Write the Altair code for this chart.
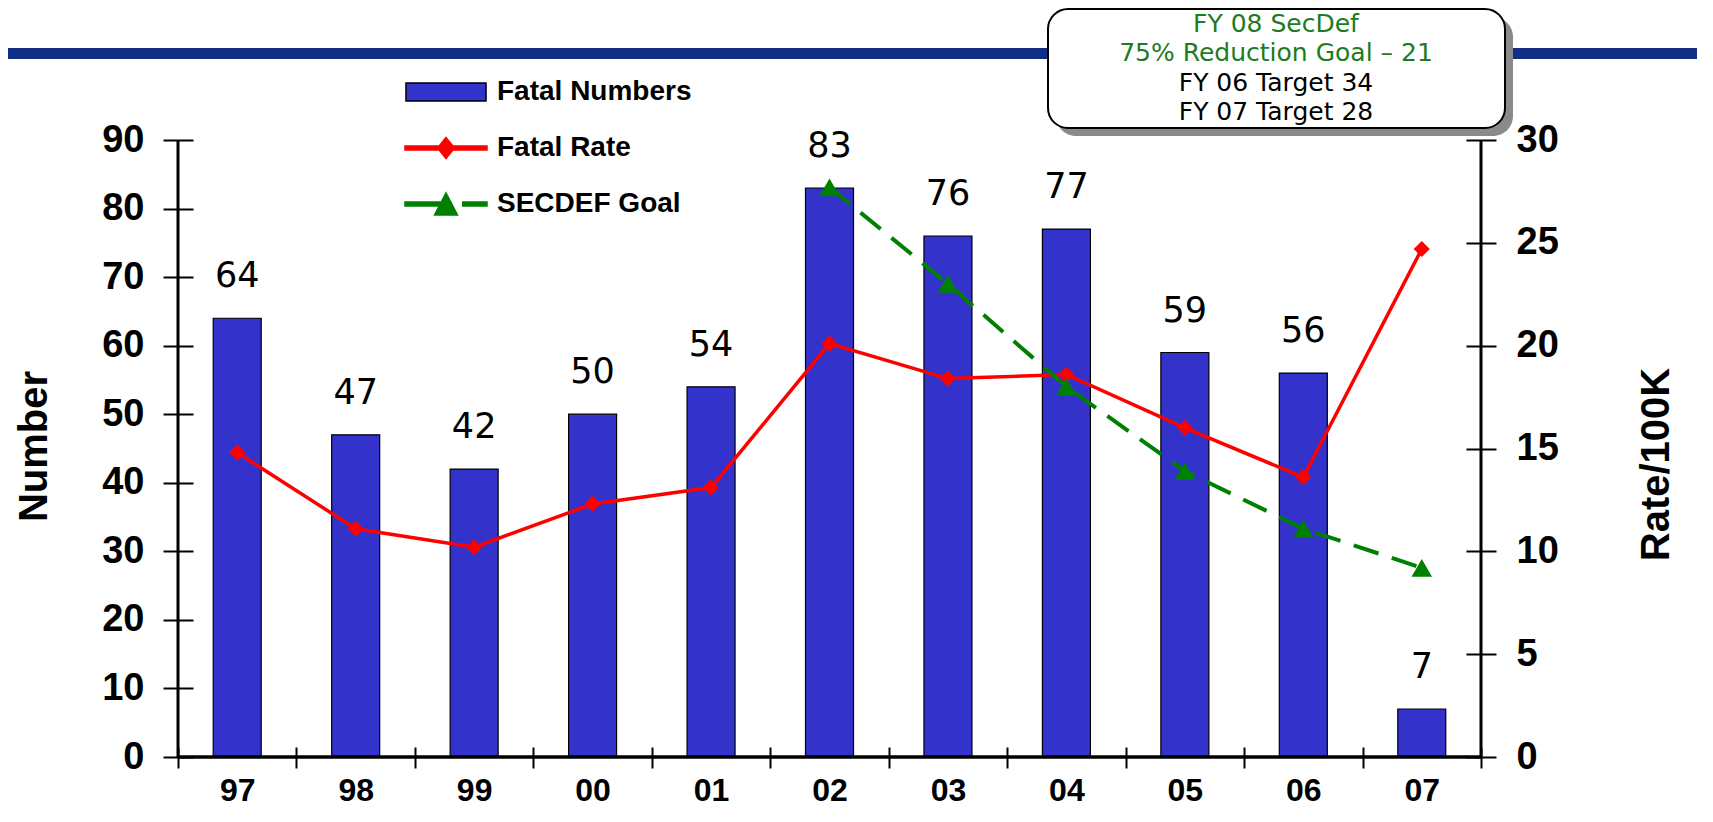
import altair as alt
import pandas as pd

# ---------------- data ----------------
years = ["97", "98", "99", "00", "01", "02", "03", "04", "05", "06", "07"]
fatal_numbers = [64, 47, 42, 50, 54, 83, 76, 77, 59, 56, 7]
fatal_rate = [14.8, 11.1, 10.2, 12.3, 13.1, 20.1, 18.4, 18.6, 16.0, 13.6, 24.7]
goal_years = ["02", "03", "04", "05", "06", "07"]
secdef_goal = [27.7, 23.0, 18.0, 13.9, 11.1, 9.2]

series_names = ["Fatal Numbers", "Fatal Rate", "SECDEF Goal"]
series_fill = ["#3333CC", "#FF0000", "#008000"]
series_stroke = ["black", "#FF0000", "#008000"]

note_lines = ["FY 08 SecDef", "75% Reduction Goal \u2013 21", "FY 06 Target 34", "FY 07 Target 28"]
note_colors = ["#1e7b1e", "#1e7b1e", "black", "black"]

num_ticks = list(range(0, 91, 10))
rate_ticks = list(range(0, 31, 5))

# ---------------- layout ----------------
W, H = 1303, 617

bars_df = pd.DataFrame({"year": years, "number": fatal_numbers})
rate_df = pd.DataFrame({"year": years, "value": fatal_rate})
goal_df = pd.DataFrame({"year": goal_years, "value": secdef_goal})
legend_df = pd.DataFrame({"series": series_names})
one = pd.DataFrame({"d": [0]})

x_axis = alt.Axis(
    title=None, tickBand="extent", offset=-10, tickSize=21, tickWidth=2,
    tickColor="black", domain=False, grid=False, labelAngle=0,
    labelFont="Liberation Sans", labelFontWeight="bold", labelFontSize=32,
    labelColor="black", labelPadding=7,
)
x_enc = alt.X("year:N", sort=years,
              scale=alt.Scale(domain=years, paddingInner=0, paddingOuter=0),
              axis=x_axis)

left_axis = alt.Axis(
    values=num_ticks, offset=-15, tickSize=30, tickWidth=2, tickColor="black",
    domain=False, grid=False, labelFont="Liberation Sans", labelFontWeight="bold",
    labelFontSize=38, labelColor="black", labelPadding=19,
    title="Number", titleFont="Liberation Sans", titleFontWeight="bold",
    titleFontSize=40, titleColor="black", titleAngle=-90, titleBaseline="middle",
    titleAlign="center", titleX=-159, titleY=306,
)
right_axis = alt.Axis(
    values=rate_ticks, orient="right", offset=-15, tickSize=30, tickWidth=2,
    tickColor="black", domain=False, grid=False, labelFont="Liberation Sans",
    labelFontWeight="bold", labelFontSize=38, labelColor="black", labelPadding=20,
    title="Rate/100K", titleFont="Liberation Sans", titleFontWeight="bold",
    titleFontSize=40, titleColor="black", titleAngle=-90, titleBaseline="middle",
    titleAlign="center", titleX=190, titleY=324,
)
y_left = alt.Y("number:Q", scale=alt.Scale(domain=[0, 90], nice=False), axis=left_axis)
y_right = alt.Y("value:Q", scale=alt.Scale(domain=[0, 30], nice=False), axis=right_axis)

# ---------------- decorations ----------------
stripe = alt.Chart(one).mark_rect(color="#102e86").encode(
    x=alt.value(-178), x2=alt.value(1519), y=alt.value(-92), y2=alt.value(-81))
shadow = alt.Chart(one).mark_rect(color="#8a8a8a", cornerRadius=20).encode(
    x=alt.value(878), x2=alt.value(1335), y=alt.value(-123), y2=alt.value(-4))
box = alt.Chart(one).mark_rect(fill="white", stroke="black", strokeWidth=2,
                               cornerRadius=20).encode(
    x=alt.value(870), x2=alt.value(1327), y=alt.value(-131), y2=alt.value(-12))
note_y = [-116, -87, -57, -28]
notes = [
    alt.Chart(one).mark_text(font="DejaVu Sans", fontSize=25, color=c,
                             align="center", baseline="middle").encode(
        x=alt.value(1098), y=alt.value(yy), text=alt.value(t))
    for t, c, yy in zip(note_lines, note_colors, note_y)
]
left_line = alt.Chart(one).mark_rule(color="black", strokeWidth=3).encode(
    x=alt.value(0), y=alt.value(0), y2=alt.value(H))
right_line = alt.Chart(one).mark_rule(color="black", strokeWidth=3).encode(
    x=alt.value(W), y=alt.value(0), y2=alt.value(H))
bottom_line = alt.Chart(one).mark_rule(color="black", strokeWidth=3.5).encode(
    x=alt.value(0), x2=alt.value(W), y=alt.value(H))

# ---------------- data layers ----------------
bars = alt.Chart(bars_df).mark_bar(color="#3333CC", stroke="black",
                                   strokeWidth=1.2, width=48).encode(x=x_enc, y=y_left)
labels = alt.Chart(bars_df).mark_text(font="DejaVu Sans", fontSize=35,
                                      baseline="alphabetic", dy=-31,
                                      color="black").encode(
    x=x_enc, y=y_left, text=alt.Text("number:Q"))
left_group = alt.layer(bars, labels)

rate_line = alt.Chart(rate_df).mark_line(color="#FF0000", strokeWidth=3.5).encode(
    x=x_enc, y=y_right)
rate_pts = alt.Chart(rate_df).mark_point(shape="diamond", filled=True, size=260,
                                         color="#FF0000", opacity=1).encode(
    x=x_enc, y=y_right)
goal_line = alt.Chart(goal_df).mark_line(color="#008000", strokeWidth=4,
                                         strokeDash=[26, 14]).encode(x=x_enc, y=y_right)
goal_pts = alt.Chart(goal_df).mark_point(shape="triangle-up", filled=True, size=420,
                                         color="#008000", opacity=1).encode(
    x=x_enc, y=y_right)
right_group = alt.layer(rate_line, goal_line, rate_pts, goal_pts)

# ---------------- legend ----------------
rect_path = "M-0.976,-0.22H0.976V0.22H-0.976Z"
rate_path = "M-1,-0.05H1V0.05H-1Z M0,-0.256L0.207,0L0,0.256L-0.207,0Z"
goal_path = "M-1,-0.05H-0.15V0.05H-1Z M0.41,-0.05H1V0.05H0.41Z M0,-0.27L0.28,0.27H-0.28Z"

leg = alt.Legend(
    title=None, orient="none", legendX=226, legendY=-90, padding=0,
    symbolSize=6724, symbolStrokeWidth=1.5, symbolOpacity=1,
    labelFont="Liberation Sans", labelFontWeight="bold", labelFontSize=28,
    labelColor="black", labelOffset=9, labelLimit=400, rowPadding=-27,
)
legend_layer = alt.Chart(legend_df).mark_point(filled=True, opacity=0, size=10).encode(
    shape=alt.Shape("series:N", scale=alt.Scale(domain=series_names,
                    range=[rect_path, rate_path, goal_path]), legend=leg),
    fill=alt.Fill("series:N", scale=alt.Scale(domain=series_names, range=series_fill),
                  legend=leg),
    stroke=alt.Stroke("series:N", scale=alt.Scale(domain=series_names,
                      range=series_stroke), legend=leg),
)

chart = alt.layer(
    stripe, shadow, box, *notes, left_group, right_group,
    left_line, right_line, bottom_line, legend_layer,
).resolve_scale(y="independent").properties(
    width=W, height=H,
    autosize=alt.AutoSizeParams(type="none"),
    padding={"left": 170, "top": 132, "right": 224, "bottom": 57},
    background="white",
).configure_view(strokeWidth=0)

chart.save("out.html", embed_options={"renderer": "svg", "actions": False})
